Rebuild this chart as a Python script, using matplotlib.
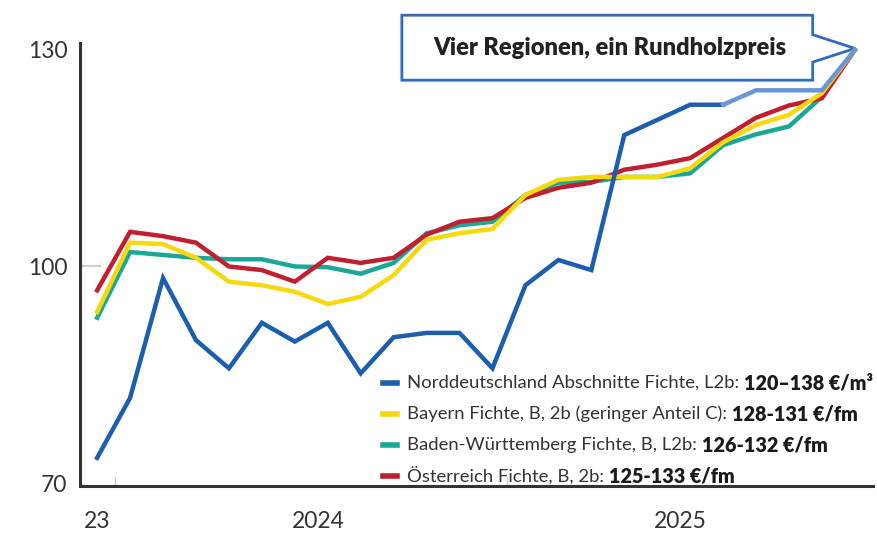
import numpy as np
import matplotlib.pyplot as plt
from matplotlib.patches import Polygon
from matplotlib.lines import Line2D

plt.rcParams['font.family'] = ['Lato', 'DejaVu Sans']

# monthly index, 24 points
n = 24
idx = np.arange(n)

nord = [73.5, 81.8, 98.4, 89.8, 85.9, 92.2, 89.6, 92.2, 85.2, 90.2, 90.8, 90.8,
        85.9, 97.4, 100.9, 99.5, 118.2, 120.3, 122.4, 122.4, 124.4, 124.4, 124.4, 130.0]
bayern = [93.7, 103.3, 103.1, 101.2, 97.9, 97.4, 96.5, 94.8, 95.8, 98.8, 103.7, 104.6,
          105.2, 109.9, 112.0, 112.4, 112.4, 112.4, 113.6, 117.2, 119.6, 121.0, 124.0, 130.0]
bw = [92.9, 102.0, 101.6, 101.2, 101.0, 101.0, 100.0, 99.9, 99.0, 100.5, 104.6, 105.7,
      106.2, 109.9, 111.6, 111.7, 112.4, 112.4, 112.9, 116.8, 118.3, 119.4, 123.5, 130.0]
oesterreich = [96.7, 104.8, 104.2, 103.3, 100.0, 99.5, 97.9, 101.2, 100.5, 101.2, 104.4, 106.2,
               106.7, 109.5, 110.9, 111.6, 113.4, 114.1, 115.0, 117.8, 120.6, 122.3, 123.3, 130.0]

series_names = ["Norddeutschland Abschnitte Fichte, L2b: ",
                "Bayern Fichte, B, 2b (geringer Anteil C): ",
                "Baden-Württemberg Fichte, B, L2b: ",
                "Österreich Fichte, B, 2b: "]
series_prices = ["120–138 €/m³", "128-131 €/fm", "126-132 €/fm", "125-133 €/fm"]
colors = ['#1b5eae', '#f6d80c', '#19a898', '#c01f30']

yticks = [70, 100, 130]
xtick_pos = [0, 6.7, 17.7]
xtick_labels = ['23', '2024', '2025']

fig = plt.figure(figsize=(8.77, 5.34), dpi=100)
ax = fig.add_axes([80/877, 48/534, (873-80)/877, (486-43)/534])

lw = 3.2
ax.plot(idx, bw, color=colors[2], lw=lw, zorder=3, solid_joinstyle='miter')
ax.plot(idx, bayern, color=colors[1], lw=lw, zorder=4, solid_joinstyle='miter')
ax.plot(idx, oesterreich, color=colors[3], lw=lw, zorder=3.5, solid_joinstyle='miter')
ax.plot(idx[:20], nord[:20], color=colors[0], lw=lw, zorder=5, solid_joinstyle='miter')
ax.plot(idx[19:], nord[19:], color='#6b96d6', lw=lw, zorder=5, solid_joinstyle='miter')

ax.set_xlim(-0.52, 23.55)
ax.set_ylim(69.6, 130.95)

for s in ['top', 'right']:
    ax.spines[s].set_visible(False)
for s in ['left', 'bottom']:
    ax.spines[s].set_color('#333333')
    ax.spines[s].set_linewidth(2.2)

ax.set_yticks(yticks)
ax.set_yticklabels([str(v) for v in yticks])
ax.set_xticks(xtick_pos)
ax.set_xticklabels(xtick_labels)
ax.tick_params(axis='y', length=0, pad=9, labelsize=16.5, labelcolor='#333333')
ax.tick_params(axis='x', length=0, pad=18, labelsize=16.5, labelcolor='#333333')

# faint inward ticks
ax.axhline(100, 0, 0.025, color='#cccccc', lw=1.5, zorder=1)
for xm in [0.55, 12.45]:
    ax.plot([xm, xm], [69.6, 70.8], color='#cccccc', lw=1, zorder=1)

# callout box pointing to the last point
box_x = [9.25, 21.72, 21.72, 23.0, 21.72, 21.72, 9.25]
box_y = [134.8, 134.8, 132.1, 130.2, 128.3, 125.8, 125.8]
poly = Polygon(np.column_stack([box_x, box_y]), closed=True, facecolor='white',
               edgecolor='#2f6cbc', lw=2, zorder=2, clip_on=False, joinstyle='miter')
ax.add_patch(poly)
ax.text(15.55, 130.3, 'Vier Regionen, ein Rundholzpreis', ha='center', va='center',
        fontsize=17, fontweight='heavy', color='#222222', zorder=6)

# legend
rows_y = [383, 414, 445, 476]
for name, price, c, ry in zip(series_names, series_prices, colors, rows_y):
    yf = 1 - ry / 534
    fig.add_artist(Line2D([383/877, 397/877], [yf, yf], color=c, lw=4,
                          transform=fig.transFigure))
    t1 = fig.text(407/877, yf, name, ha='left', va='center', fontsize=13.3,
                  color='#333333')
    ax.annotate(price, xy=(1, 0.5), xycoords=t1, xytext=(0, 0), textcoords='offset points',
                ha='left', va='center', fontsize=14.2, fontweight='heavy', color='#1a1a1a',
                annotation_clip=False)

fig.savefig('out.png', dpi=100, facecolor='white')
